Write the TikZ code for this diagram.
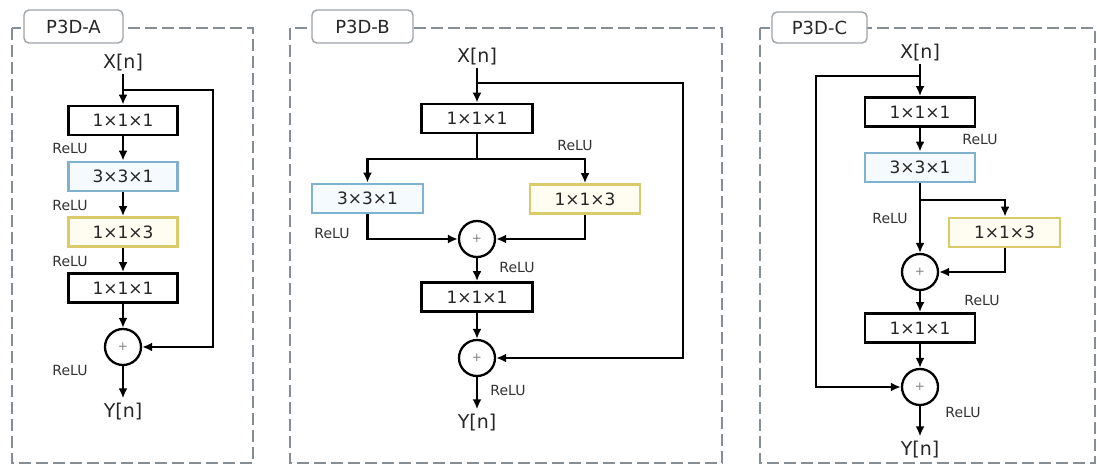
\documentclass[tikz,border=0pt]{standalone}
\usepackage{fontspec}
\setmainfont{DejaVu Sans}
\usetikzlibrary{arrows.meta}
\definecolor{framegray}{HTML}{858D95}
\definecolor{txtgray}{HTML}{262626}
\definecolor{relugray}{HTML}{333333}
\definecolor{bluebd}{HTML}{7FB2CF}
\definecolor{bluefill}{HTML}{F4FAFD}
\definecolor{yellowbd}{HTML}{D9CB6A}
\definecolor{yellowfill}{HTML}{FFFDF2}
\tikzset{
  frame/.style={draw=framegray, line width=1.9pt, dash pattern=on 12pt off 5pt},
  tab/.style={draw=framegray!80, line width=1.4pt, fill=white, rounded corners=5pt,
    font=\fontsize{18}{18}\selectfont, text=txtgray, inner sep=0pt},
  conv/.style={draw=black, line width=2.8pt, fill=white, minimum width=109pt, minimum height=29pt,
    inner sep=0pt, font=\fontsize{17}{17}\selectfont, text=txtgray},
  convblue/.style={conv, draw=bluebd, fill=bluefill},
  convyellow/.style={conv, draw=yellowbd, fill=yellowfill},
  sumnode/.style={circle, draw=black, line width=2.3pt, minimum size=36pt, inner sep=0pt,
    font=\fontsize{12}{12}\selectfont, text=gray},
  io/.style={font=\fontsize{19}{19}\selectfont, text=txtgray, inner sep=2pt},
  relu/.style={font=\fontsize{14}{14}\selectfont, text=relugray, inner sep=0pt},
  arr/.style={line width=2.3pt, -{Latex[length=10pt,width=9pt]}},
  ln/.style={line width=2.3pt},
}
\begin{document}
\begin{tikzpicture}[x=1pt,y=-1pt]
\useasboundingbox (0,0) rectangle (1097,468);
\fill[white] (0,0) rectangle (1097,468);

% ---------- frames ----------
\draw[frame] (12,28) rectangle (253,463);
\draw[frame] (290,28) rectangle (722,463);
\draw[frame] (760,28) rectangle (1095,463);
\node[tab, minimum width=99pt, minimum height=33pt] (tabA) at (73.5,26.5) {P3D-A};
\node[tab, minimum width=101pt, minimum height=33pt] (tabB) at (362.5,26.5) {P3D-B};
\node[tab, minimum width=95pt, minimum height=31pt] (tabC) at (819.5,27.5) {P3D-C};

% ---------- P3D-A ----------
\node[io] (xA) at (123,63) {X[n]};
\coordinate (jA) at (123,90);
\coordinate (rA) at (213,90);
\node[conv] (a1) at (123,120.5) {1×1×1};
\node[convblue] (a2) at (123,176.5) {3×3×1};
\node[convyellow] (a3) at (123,232) {1×1×3};
\node[conv] (a4) at (123,288) {1×1×1};
\node[sumnode] (sA) at (123,347) {+};
\node[io] (yA) at (123,412) {Y[n]};
\draw[arr] (xA) -- (a1);
\draw[arr] (a1) -- (a2);
\draw[arr] (a2) -- (a3);
\draw[arr] (a3) -- (a4);
\draw[arr] (a4) -- (sA);
\draw[arr, shorten >=3pt] (sA) -- (yA);
\draw[arr] (jA) -- (rA) |- (sA.east);
\node[relu] (ra1) at (70,148) {ReLU};
\node[relu] (ra2) at (70,205) {ReLU};
\node[relu] (ra3) at (70,261) {ReLU};
\node[relu] (ra4) at (70,370) {ReLU};

% ---------- P3D-B ----------
\node[io] (xB) at (477,57) {X[n]};
\coordinate (jB) at (477,83);
\coordinate (rB) at (683,83);
\node[conv, minimum width=111pt] (b1) at (477,118.5) {1×1×1};
\coordinate (brB) at (477,159);
\node[convblue, minimum width=111pt] (bl) at (367.5,198.5) {3×3×1};
\node[convyellow, minimum width=110pt] (br) at (585,199) {1×1×3};
\node[sumnode] (sB1) at (477,239) {+};
\node[conv, minimum width=111pt] (b2) at (477,297) {1×1×1};
\node[sumnode] (sB2) at (477,358) {+};
\node[io] (yB) at (477,423) {Y[n]};
\draw[arr] (xB) -- (b1);
\draw[ln] (b1) -- (brB);
\draw[arr] (brB) -| (bl.north);
\draw[arr] (brB) -| (br.north);
\draw[arr] (bl.south) |- (sB1.west);
\draw[arr] (br.south) |- (sB1.east);
\draw[arr] (sB1) -- (b2);
\draw[arr] (b2) -- (sB2);
\draw[arr, shorten >=3pt] (sB2) -- (yB);
\draw[arr] (jB) -- (rB) |- (sB2.east);
\node[relu] (rb1) at (575,145) {ReLU};
\node[relu] (rb2) at (332,233) {ReLU};
\node[relu] (rb3) at (517,267) {ReLU};
\node[relu] (rb4) at (508,390) {ReLU};

% ---------- P3D-C ----------
\node[io] (xC) at (920,53) {X[n]};
\coordinate (jC) at (920,76);
\coordinate (lC) at (816,76);
\node[conv, minimum width=110pt] (c1) at (920,112) {1×1×1};
\node[convblue, minimum width=110pt] (c2) at (920,167.5) {3×3×1};
\coordinate (brC) at (920,200);
\coordinate (brCr) at (1005,200);
\node[convyellow, minimum width=111pt] (c3) at (1004.5,232.5) {1×1×3};
\node[sumnode] (sC1) at (920,272) {+};
\node[conv, minimum width=110pt] (c4) at (920,328) {1×1×1};
\node[sumnode] (sC2) at (920,387) {+};
\node[io] (yC) at (920,450) {Y[n]};
\draw[arr] (xC) -- (c1);
\draw[arr] (c1) -- (c2);
\draw[arr] (c2) -- (sC1);
\draw[arr] (brC) -- (brCr) -- (c3.north -| brCr);
\draw[arr] (c3.south -| brCr) |- (sC1.east);
\draw[arr] (sC1) -- (c4);
\draw[arr] (c4) -- (sC2);
\draw[arr, shorten >=3pt] (sC2) -- (yC);
\draw[arr] (jC) -- (lC) |- (sC2.west);
\node[relu] (rc1) at (980,139) {ReLU};
\node[relu] (rc2) at (890,218) {ReLU};
\node[relu] (rc3) at (982,300) {ReLU};
\node[relu] (rc4) at (963,412) {ReLU};
\end{tikzpicture}
\end{document}
